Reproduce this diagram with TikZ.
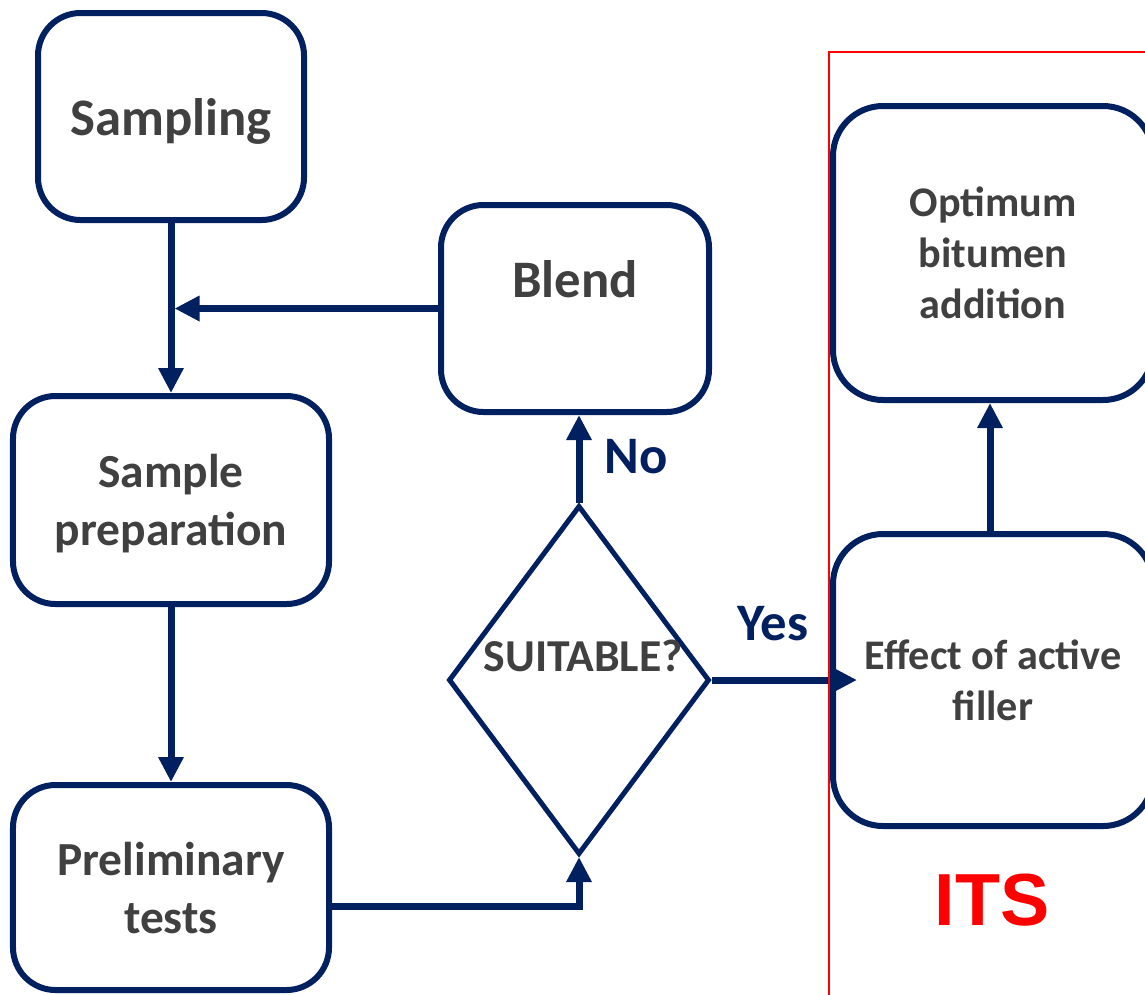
\documentclass[tikz,border=0pt]{standalone}
\usepackage{fontspec}
\setmainfont{Carlito}
\newfontfamily\itsfont{Liberation Sans}
\usetikzlibrary{shapes.geometric,arrows.meta}
\definecolor{navy}{HTML}{002060}
\definecolor{txtgray}{HTML}{404040}

\begin{document}
\begin{tikzpicture}[
  stepbox/.style={draw=navy, line width=0.12cm, rounded corners=0.85cm, fill=white,
    text=txtgray, font=\bfseries\fontsize{27}{33}\selectfont, align=center,
    inner sep=0pt, text depth=0pt},
  decision/.style={diamond, draw=navy, line width=0.1cm, inner sep=0pt},
  flow/.style={draw=navy, line width=0.14cm, -{Triangle[width=0.48cm,length=0.5cm]}},
  answer/.style={text=navy, font=\bfseries\fontsize{30}{36}\selectfont}
]
  \useasboundingbox (0,0) rectangle (22.9,-19.88);
  \clip (0,0) rectangle (22.9,-19.88);
  % left column
  \node [stepbox, minimum width=5.32cm, minimum height=4.14cm,
    font=\bfseries\fontsize{30}{36}\selectfont] (sampling) at (3.42,-2.33) {Sampling};
  \node [stepbox, minimum width=6.32cm, minimum height=4.16cm] (prep) at (3.42,-10.0) {Sample\\preparation};
  \node [stepbox, minimum width=6.32cm, minimum height=4.1cm] (prelim) at (3.42,-17.75) {Preliminary\\tests};
  % middle column
  \node [stepbox, minimum width=5.36cm, minimum height=4.14cm, text depth=1.2cm,
    font=\bfseries\fontsize{30}{36}\selectfont] (blend) at (11.5,-6.17) {Blend};
  \node [decision, minimum width=5.22cm, minimum height=6.98cm] (suit) at (11.58,-13.6) {};
  \node [text=txtgray, font=\bfseries\fontsize{26}{31}\selectfont] (suitlabel) at (11.66,-13.12) {SUITABLE?};
  % right column
  \node [stepbox, rounded corners=1cm, minimum width=6.4cm, minimum height=5.88cm,
    font=\bfseries\fontsize{24}{29}\selectfont] (optimum) at (19.86,-5.06) {Optimum\\bitumen\\addition};
  \node [stepbox, rounded corners=1cm, minimum width=6.4cm, minimum height=5.84cm,
    font=\bfseries\fontsize{24}{29}\selectfont] (effect) at (19.86,-13.6) {Effect of active\\filler};
  % connectors
  \coordinate (merge) at ([xshift=0.07cm]sampling.south |- blend.west);
  \draw [flow] (sampling) -- (prep);
  \draw [flow] (blend.west) -- (merge);
  \draw [flow] (prep) -- (prelim);
  \draw [flow] ([yshift=-0.37cm]prelim.east) -| (suit.south);
  \draw [flow] (suit.north) -- (suit.north |- blend.south);
  \draw [flow, shorten >=-0.54cm] (suit.east) -- (effect.west);
  \draw [flow] ([xshift=-0.06cm]effect.north) -- ([xshift=-0.06cm]optimum.south);
  \node [answer] (no) at (12.72,-9.14) {No};
  \node [answer] (yes) at (15.46,-12.48) {Yes};
  % ITS frame
  \draw [red, line width=0.04cm] (16.58,-25) |- (25,-1.04);
  \node [text=red, font=\itsfont\bfseries\fontsize{42}{50}\selectfont] (its) at (19.84,-18.0) {ITS};
\end{tikzpicture}
\end{document}
